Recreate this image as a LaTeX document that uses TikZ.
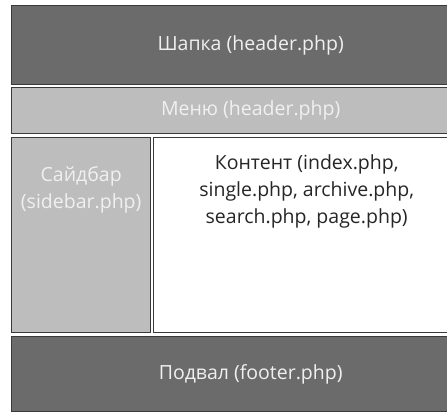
\documentclass[tikz,border=0pt]{standalone}
\usepackage{fontspec}
\setmainfont{Open Sans}
\usetikzlibrary{positioning}
\definecolor{darkpart}{HTML}{6B6B6B}
\definecolor{lightpart}{HTML}{BDBDBD}
\definecolor{framecol}{HTML}{3A3A3A}
\definecolor{lighttext}{HTML}{F0F0F0}

\begin{document}
\begin{tikzpicture}[x=1pt, y=-1pt,
            every node/.style={inner sep=0pt, font=\fontsize{19.5}{27}\selectfont},
            part/.style={draw=framecol, line width=1.4pt, anchor=north west,
                         minimum width=478pt, text=lighttext},
            darkbox/.style={part, fill=darkpart},
            lightbox/.style={part, fill=lightpart}]
        \useasboundingbox (0,0) rectangle (447,412);
        \clip (0,0) rectangle (447,412);
        \fill[white] (0,0) rectangle (447,412);
        % blocks of the page
        \node[darkbox, minimum height=79pt] (header) at (11,5) {Шапка (header.php)};
        \node[lightbox, minimum height=46pt] (menu) at (11,87) {Меню (header.php)};
        \node[lightbox, minimum width=139pt, minimum height=195pt] (sidebar) at (11,137) {};
        \node[part, fill=white, minimum width=336pt, minimum height=195pt] (content) at (153,137) {};
        \node[darkbox, minimum height=75pt] (footer) at (11,336) {Подвал (footer.php)};
        % texts at the top of the two columns
        \node[text=lighttext, align=center, anchor=north] (sidebartext)
            at ([yshift=-29pt]sidebar.north) {Сайдбар\\(sidebar.php)};
        \node[text=black!85, align=center, anchor=north] (contenttext)
            at ([xshift=-15pt, yshift=-17pt]content.north) {Контент (index.php,\\single.php, archive.php,\\search.php, page.php)};
\end{tikzpicture}
\end{document}
